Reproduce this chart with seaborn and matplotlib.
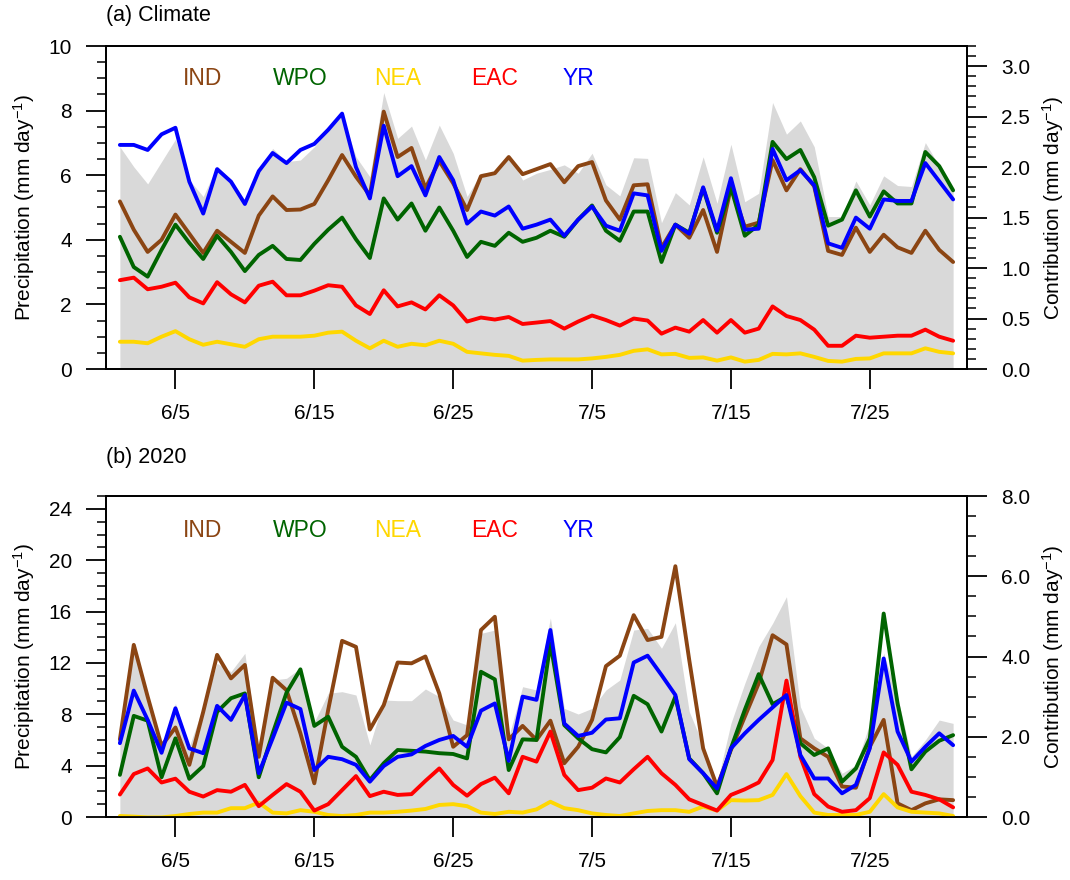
import numpy as np
import pandas as pd
import matplotlib
matplotlib.use("Agg")
import matplotlib.pyplot as plt
import matplotlib.ticker as mticker
import seaborn as sns

# ---------------- data ----------------
dates = pd.date_range("2020-06-01", "2020-07-31", freq="D")
regions = ["IND", "WPO", "NEA", "EAC", "YR"]
region_colors = ["#8B4513", "#006400", "#FFD700", "#FF0000", "#0000FF"]
tick_dates = ["2020-06-05", "2020-06-15", "2020-06-25", "2020-07-05", "2020-07-15", "2020-07-25"]
tick_labels = ["6/5", "6/15", "6/25", "7/5", "7/15", "7/25"]

# (a) Climate: precipitation (left axis, mm/day)
clim_total = [6.88, 6.26, 5.73, 6.42, 7.11, 5.85, 5.34, 6.28, 5.85, 5.23,
              6.11, 6.83, 6.42, 6.47, 6.88, 7.40, 7.86, 6.57, 5.95, 8.56,
              7.14, 7.52, 6.47, 7.55, 6.68, 5.34, 6.06, 6.11, 6.63, 5.85,
              6.06, 6.18, 6.32, 6.06, 6.68, 5.70, 5.36, 6.54, 6.52, 4.53,
              5.46, 5.08, 6.57, 5.13, 6.96, 5.18, 5.44, 8.25, 7.27, 7.68,
              6.88, 4.72, 4.72, 5.82, 5.08, 5.98, 5.68, 5.65, 7.01, 6.28, 5.54]
# (a) Climate: contributions (right axis, mm/day)
clim_ind = [1.66, 1.38, 1.16, 1.28, 1.53, 1.34, 1.15, 1.37, 1.26, 1.15,
            1.52, 1.71, 1.575, 1.58, 1.635, 1.87, 2.12, 1.905, 1.72, 2.55,
            2.10, 2.19, 1.79, 2.06, 1.84, 1.575, 1.91, 1.94, 2.10, 1.93,
            1.98, 2.03, 1.85, 2.01, 2.05, 1.67, 1.48, 1.82, 1.83, 1.20,
            1.43, 1.30, 1.575, 1.16, 1.80, 1.41, 1.45, 2.07, 1.77, 1.98,
            1.81, 1.17, 1.13, 1.40, 1.16, 1.33, 1.205, 1.15, 1.37, 1.18, 1.06]
clim_wpo = [1.31, 1.01, 0.915, 1.18, 1.43, 1.25, 1.09, 1.32, 1.16, 0.97,
            1.13, 1.22, 1.09, 1.08, 1.24, 1.38, 1.50, 1.285, 1.10, 1.69,
            1.48, 1.64, 1.37, 1.60, 1.37, 1.11, 1.26, 1.22, 1.35, 1.26,
            1.30, 1.37, 1.31, 1.48, 1.62, 1.37, 1.27, 1.56, 1.56, 1.06,
            1.43, 1.35, 1.79, 1.35, 1.80, 1.32, 1.43, 2.25, 2.08, 2.17,
            1.90, 1.42, 1.48, 1.77, 1.51, 1.76, 1.64, 1.64, 2.15, 2.01, 1.77]
clim_nea = [0.27, 0.27, 0.255, 0.32, 0.375, 0.295, 0.24, 0.27, 0.245, 0.22,
            0.295, 0.32, 0.32, 0.32, 0.33, 0.36, 0.37, 0.28, 0.205, 0.28,
            0.22, 0.25, 0.235, 0.28, 0.25, 0.17, 0.155, 0.14, 0.13, 0.083,
            0.09, 0.095, 0.095, 0.095, 0.105, 0.12, 0.14, 0.18, 0.195, 0.145,
            0.15, 0.11, 0.115, 0.083, 0.115, 0.073, 0.09, 0.15, 0.145, 0.155,
            0.12, 0.08, 0.073, 0.10, 0.105, 0.155, 0.155, 0.155, 0.205, 0.17, 0.155]
clim_eac = [0.88, 0.905, 0.79, 0.815, 0.855, 0.71, 0.65, 0.86, 0.74, 0.66,
            0.825, 0.865, 0.73, 0.73, 0.776, 0.83, 0.815, 0.63, 0.545, 0.78,
            0.62, 0.66, 0.59, 0.73, 0.63, 0.47, 0.51, 0.49, 0.515, 0.446,
            0.46, 0.475, 0.40, 0.47, 0.53, 0.485, 0.43, 0.50, 0.48, 0.35,
            0.41, 0.37, 0.485, 0.36, 0.485, 0.36, 0.40, 0.62, 0.525, 0.485,
            0.39, 0.23, 0.23, 0.33, 0.31, 0.32, 0.33, 0.33, 0.39, 0.32, 0.28]
clim_yr = [2.22, 2.22, 2.17, 2.325, 2.39, 1.856, 1.54, 1.98, 1.856, 1.635,
           1.96, 2.14, 2.04, 2.17, 2.23, 2.37, 2.53, 2.00, 1.69, 2.41,
           1.91, 2.01, 1.72, 2.10, 1.87, 1.44, 1.56, 1.52, 1.61, 1.39,
           1.43, 1.48, 1.32, 1.48, 1.61, 1.42, 1.37, 1.74, 1.72, 1.17,
           1.43, 1.34, 1.80, 1.37, 1.89, 1.38, 1.39, 2.18, 1.87, 1.97,
           1.82, 1.245, 1.20, 1.50, 1.39, 1.68, 1.665, 1.665, 2.04, 1.86, 1.68]

# (b) 2020: precipitation (left axis, mm/day)
y2020_total = [6.13, 13.27, 9.50, 5.48, 8.85, 5.50, 8.59, 11.97, 11.32, 12.75,
               4.96, 10.67, 10.80, 11.60, 7.40, 9.63, 9.76, 9.50, 5.61, 9.11,
               9.06, 9.06, 9.97, 9.37, 7.55, 7.17, 14.30, 14.56, 6.26, 10.15,
               9.89, 15.50, 8.46, 8.02, 8.46, 9.89, 10.67, 14.56, 14.69, 13.14,
               15.13, 8.20, 5.61, 2.62, 7.29, 10.41, 13.27, 15.08, 17.16, 8.59,
               6.13, 5.35, 3.40, 4.05, 7.29, 12.77, 9.37, 4.70, 6.00, 7.55, 7.29]
# (b) 2020: contributions (right axis, mm/day)
y2020_ind = [1.935, 4.29, 3.00, 1.77, 2.23, 1.30, 2.62, 4.04, 3.455, 3.79,
             1.50, 3.47, 3.16, 2.085, 0.84, 2.67, 4.39, 4.24, 2.18, 2.79,
             3.85, 3.83, 4.00, 3.08, 1.75, 2.04, 4.66, 4.99, 1.935, 2.27,
             1.92, 2.40, 1.34, 1.75, 2.42, 3.76, 4.02, 5.03, 4.41, 4.49,
             6.25, 3.91, 1.71, 0.76, 1.67, 2.50, 3.33, 4.53, 4.30, 1.96,
             1.71, 1.50, 0.76, 0.73, 1.75, 2.42, 0.34, 0.17, 0.34, 0.44, 0.42]
y2020_wpo = [1.05, 2.52, 2.40, 0.99, 1.96, 0.95, 1.27, 2.62, 2.96, 3.08,
             0.99, 2.08, 3.10, 3.68, 2.27, 2.50, 1.75, 1.50, 0.92, 1.34,
             1.67, 1.65, 1.63, 1.59, 1.57, 1.46, 3.62, 3.43, 1.17, 1.935,
             1.92, 4.33, 2.29, 1.96, 1.69, 1.61, 1.99, 3.02, 2.81, 2.13,
             3.00, 1.46, 1.09, 0.59, 1.71, 2.67, 3.56, 2.81, 3.01, 1.84,
             1.545, 1.71, 0.88, 1.21, 1.96, 5.07, 2.83, 1.19, 1.63, 1.90, 2.04]
y2020_nea = [0.025, 0.01, -0.01, -0.01, 0.025, 0.075, 0.11, 0.11, 0.22, 0.22,
             0.36, 0.11, 0.09, 0.17, 0.13, 0.05, 0.025, 0.05, 0.11, 0.11,
             0.13, 0.16, 0.20, 0.30, 0.32, 0.27, 0.11, 0.075, 0.13, 0.11,
             0.19, 0.38, 0.22, 0.17, 0.09, 0.05, 0.025, 0.09, 0.15, 0.17,
             0.17, 0.13, 0.26, 0.16, 0.42, 0.41, 0.42, 0.55, 1.07, 0.52,
             0.11, 0.05, 0.05, 0.05, 0.13, 0.57, 0.24, 0.13, 0.11, 0.09, 0.025]
y2020_eac = [0.56, 1.07, 1.21, 0.86, 0.955, 0.63, 0.51, 0.67, 0.63, 0.80,
             0.27, 0.55, 0.82, 0.63, 0.16, 0.32, 0.67, 1.02, 0.52, 0.63,
             0.55, 0.57, 0.90, 1.21, 0.80, 0.53, 0.82, 0.98, 0.59, 1.50,
             1.38, 2.13, 1.05, 0.67, 0.73, 0.96, 0.86, 1.19, 1.50, 1.09,
             0.80, 0.44, 0.30, 0.16, 0.55, 0.69, 0.86, 1.42, 3.40, 1.50,
             0.57, 0.26, 0.13, 0.17, 0.47, 1.61, 1.30, 0.63, 0.55, 0.44, 0.24]
y2020_yr = [1.84, 3.15, 2.42, 1.60, 2.71, 1.71, 1.59, 2.77, 2.42, 3.04,
            1.09, 1.96, 2.85, 2.69, 1.17, 1.50, 1.44, 1.30, 0.88, 1.27,
            1.50, 1.56, 1.77, 1.92, 2.02, 1.75, 2.65, 2.83, 1.40, 3.00,
            2.92, 4.66, 2.33, 2.02, 2.10, 2.43, 2.46, 3.85, 4.02, 3.54,
            3.04, 1.44, 1.09, 0.71, 1.71, 2.085, 2.42, 2.73, 3.04, 1.545,
            0.96, 0.96, 0.59, 0.80, 1.71, 3.95, 2.13, 1.38, 1.75, 2.085, 1.79]

# ---------------- style ----------------
sns.set_theme(style="ticks")
plt.rcParams["font.family"] = ["Liberation Sans", "DejaVu Sans"]
plt.rcParams.update({
    "mathtext.fontset": "custom",
    "mathtext.rm": "Liberation Sans",
    "mathtext.it": "Liberation Sans:italic",
    "mathtext.bf": "Liberation Sans:bold",
    "axes.edgecolor": "black",
    "xtick.color": "black",
    "ytick.color": "black",
    "text.color": "black",
    "axes.labelcolor": "black",
})

GRAY = "#D9D9D9"
FIG_W, FIG_H = 1070, 880
fig = plt.figure(figsize=(FIG_W / 100, FIG_H / 100), dpi=100)


def px_rect(left, top, right, bottom):
    return [left / FIG_W, 1 - bottom / FIG_H, (right - left) / FIG_W, (bottom - top) / FIG_H]


def make_panel(rect, total, series, title, title_y,
               lmax, lmaj, lmin, rmax, rmaj, rmin, label_y):
    ax = fig.add_axes(rect)
    ax.fill_between(dates, 0, total, color=GRAY, lw=0, zorder=1)
    axr = ax.twinx()
    df = pd.DataFrame({
        "date": np.tile(dates, len(regions)),
        "value": np.concatenate(series),
        "region": np.repeat(regions, len(dates)),
    })
    sns.lineplot(data=df, x="date", y="value", hue="region", hue_order=regions,
                 palette=dict(zip(regions, region_colors)), estimator=None,
                 linewidth=2.8, legend=False, ax=axr)

    ax.set_xlim(dates[0] - pd.Timedelta(days=1), dates[-1] + pd.Timedelta(days=1))
    ax.set_ylim(0, lmax)
    axr.set_ylim(0, rmax)
    ax.set_xticks(pd.to_datetime(tick_dates))
    ax.set_xticklabels(tick_labels)
    ax.yaxis.set_major_locator(mticker.MultipleLocator(lmaj))
    ax.yaxis.set_minor_locator(mticker.MultipleLocator(lmin))
    axr.yaxis.set_major_locator(mticker.MultipleLocator(rmaj))
    axr.yaxis.set_minor_locator(mticker.MultipleLocator(rmin))
    axr.yaxis.set_major_formatter(mticker.FormatStrFormatter("%.1f"))
    ax.set_xlabel("")
    axr.set_xlabel("")

    for a in (ax, axr):
        for s in a.spines.values():
            s.set_linewidth(1.3)
            s.set_color("black")
        a.tick_params(which="major", direction="out", length=14.5, width=1.3,
                      labelsize=15, pad=10)
        a.tick_params(which="minor", direction="out", length=6.5, width=1.1)
    ax.tick_params(axis="x", which="major", pad=11)
    ax.tick_params(axis="x", which="minor", length=0)

    ax.set_ylabel(r"Precipitation (mm day$^{-1}$)", fontsize=15, va="center")
    ax.yaxis.set_label_coords((24 - 106) / 861, 0.5)
    axr.set_ylabel(r"Contribution (mm day$^{-1}$)", fontsize=15, va="center",
                   rotation=90)
    axr.yaxis.set_label_coords((1053 - 106) / 861, 0.5)

    fig.text(106 / FIG_W, 1 - title_y / FIG_H, title, ha="left", va="center",
             fontsize=15.5)

    label_x = [0.1123, 0.2261, 0.3383, 0.4518, 0.5485]
    for name, col, lx in zip(regions, region_colors, label_x):
        ax.text(lx, label_y, name, color=col, fontsize=16.5, ha="center",
                va="center", transform=ax.transAxes)
    return ax, axr


make_panel(px_rect(106, 46, 967, 369), clim_total,
           [clim_ind, clim_wpo, clim_nea, clim_eac, clim_yr],
           "(a) Climate", 16, 10, 2, 0.5, 3.2, 0.5, 0.1, 0.898)
make_panel(px_rect(106, 496, 967, 817), y2020_total,
           [y2020_ind, y2020_wpo, y2020_nea, y2020_eac, y2020_yr],
           "(b) 2020", 457, 25, 4, 1, 8, 2, 0.5, 0.892)

fig.savefig("out.png", dpi=100)
